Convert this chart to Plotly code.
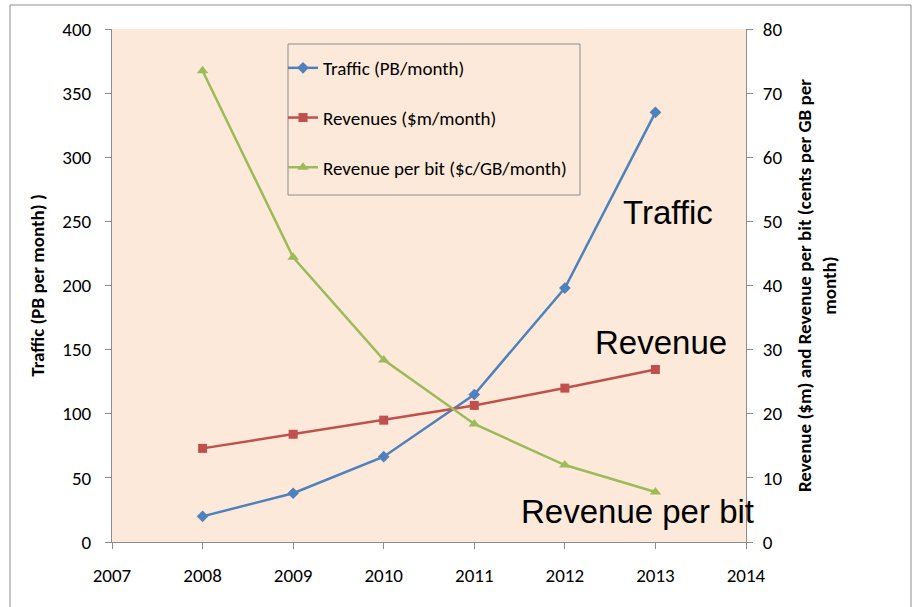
import plotly.graph_objects as go

years = [2008, 2009, 2010, 2011, 2012, 2013]
traffic_pb = [20, 38, 66.5, 115, 198, 335]
revenue_m = [14.6, 16.8, 19.0, 21.3, 24.0, 26.9]
revenue_per_bit_c = [73.5, 44.4, 28.4, 18.4, 12.0, 7.8]

BLUE = "#4F81BD"
RED = "#C0504D"
GREEN = "#9BBB59"
FONT = "Liberation Sans, Arial"
TICKFONT = "Carlito, Open Sans, Liberation Sans"
FS = 19

W, H = 914, 607
L, R, T, B = 112, 746, 29, 542
pw, ph = R - L, B - T

def px_x(x):
    return (x - L) / pw

def px_y(y):
    return (B - y) / ph

fig = go.Figure()
fig.add_trace(go.Scatter(
    x=years, y=traffic_pb, name="Traffic (PB/month)", mode="lines+markers",
    line=dict(color=BLUE, width=2.5), marker=dict(symbol="diamond", size=9, color=BLUE),
    legendgroup="a", yaxis="y"))
fig.add_trace(go.Scatter(
    x=years, y=revenue_m, name="Revenues ($m/month)", mode="lines+markers",
    line=dict(color=RED, width=2.5), marker=dict(symbol="square", size=9, color=RED),
    legendgroup="b", yaxis="y2"))
fig.add_trace(go.Scatter(
    x=years, y=revenue_per_bit_c, name="Revenue per bit ($c/GB/month)", mode="lines+markers",
    line=dict(color=GREEN, width=2.5), marker=dict(symbol="triangle-up", size=10, color=GREEN),
    legendgroup="c", yaxis="y2"))

axis_common = dict(showgrid=False, zeroline=False, showline=True, linecolor="#8C8C8C",
                   linewidth=1, ticks="outside", tickcolor="#8C8C8C", ticklen=6,
                   tickfont=dict(family=TICKFONT, size=FS, color="#000"))

fig.update_layout(
    width=W, height=H,
    margin=dict(l=L, r=W - R, t=T, b=H - B),
    paper_bgcolor="white", plot_bgcolor="#FDE9D9",
    showlegend=True,
    legend=dict(x=px_x(283), y=px_y(49), xanchor="left", yanchor="top",
                bgcolor="rgba(0,0,0,0)", borderwidth=0,
                font=dict(family=TICKFONT, size=FS, color="#000"),
                traceorder="grouped", tracegroupgap=22, itemwidth=30),
    xaxis=dict(range=[2007, 2014], dtick=1, tick0=2007, ticklabelstandoff=10, **axis_common),
    yaxis=dict(range=[0, 400], dtick=50, ticklabelstandoff=10,
               title=dict(text="<b>Traffic (PB per month) )</b>",
                          font=dict(family=TICKFONT, size=FS, color="#000"), standoff=12),
               **axis_common),
    yaxis2=dict(range=[0, 80], dtick=10, overlaying="y", side="right", ticklabelstandoff=6,
                title=dict(text="<b>Revenue ($m) and Revenue per bit (cents per GB per<br>month)</b>",
                           font=dict(family=TICKFONT, size=FS, color="#000"), standoff=16),
                **axis_common),
)

# legend frame
fig.add_shape(type="rect", xref="paper", yref="paper",
              x0=px_x(288), x1=px_x(580), y0=px_y(195), y1=px_y(44),
              line=dict(color="#8C8C8C", width=1), fillcolor="rgba(0,0,0,0)")

# labels placed next to each curve
for text, x, y in [("Traffic", 668, 212), ("Revenue", 661, 342), ("Revenue per bit", 637, 511)]:
    fig.add_annotation(xref="paper", yref="paper", x=px_x(x), y=px_y(y), text=text,
                       showarrow=False, xanchor="center", yanchor="middle",
                       font=dict(family=FONT, size=33, color="#000"))

# outer chart frame
fig.add_shape(type="rect", xref="paper", yref="paper", layer="below",
              x0=px_x(10), x1=px_x(911), y0=px_y(640), y1=px_y(5),
              line=dict(color="#8C8C8C", width=1), fillcolor="rgba(0,0,0,0)")

fig.write_html("out.html")
